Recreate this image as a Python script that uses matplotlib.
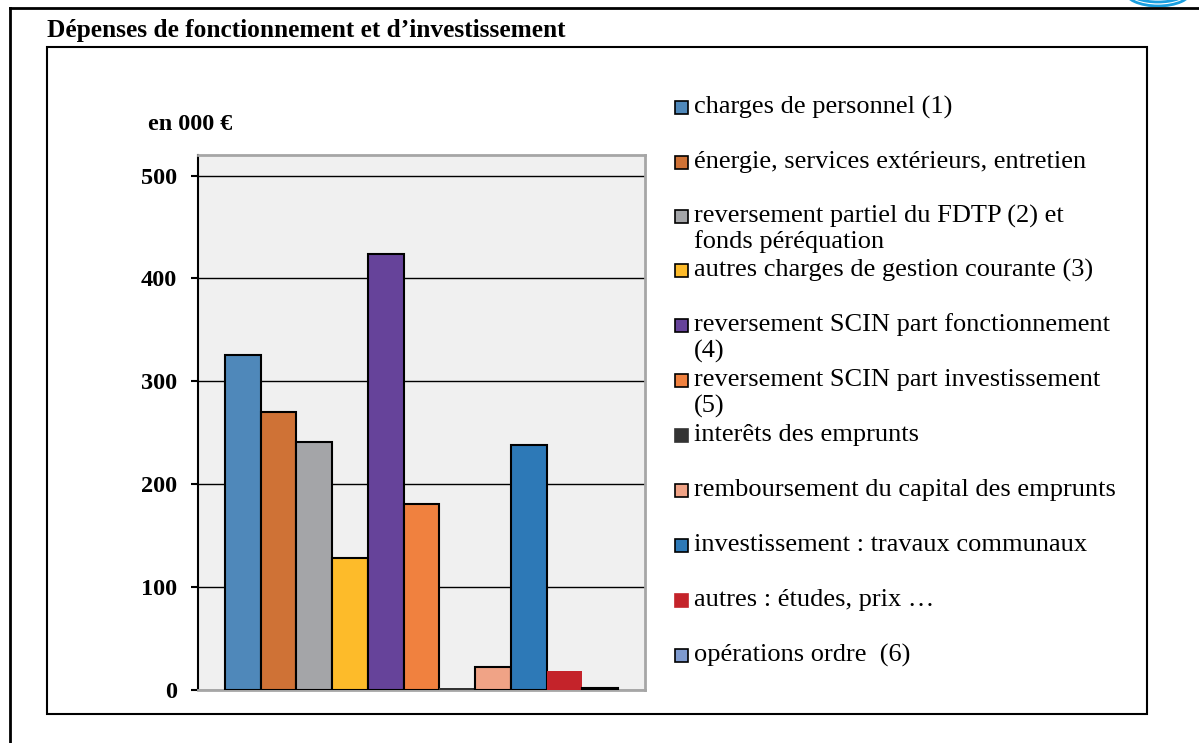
import matplotlib.pyplot as plt
from matplotlib.patches import Rectangle, Arc

plt.rcParams['font.family'] = ['Liberation Serif', 'DejaVu Serif']

# data (en 000 €)
labels = ["charges de personnel (1)",
          "énergie, services extérieurs, entretien",
          "reversement partiel du FDTP (2) et\nfonds péréquation",
          "autres charges de gestion courante (3)",
          "reversement SCIN part fonctionnement\n(4)",
          "reversement SCIN part investissement\n(5)",
          "interêts des emprunts",
          "remboursement du capital des emprunts",
          "investissement : travaux communaux",
          "autres : études, prix …",
          "opérations ordre  (6)"]
values = [326, 270, 241, 128, 424, 181, 2, 22, 238, 18, 2]
colors = ["#4F88BA", "#CF7236", "#A4A5A8", "#FDBB2A", "#66439A", "#F0813F",
          "#333333", "#F0A386", "#2D79B7", "#C4232A", "#7E9ACF"]
edges = ["black"] * 11
edges[6] = "none"
edges[9] = "none"
yticks = [0, 100, 200, 300, 400, 500]

W, H = 1199, 743
fig = plt.figure(figsize=(W / 100, H / 100), dpi=100)

def fx(px):
    return px / W

def fy(py):
    return 1 - py / H

# cadres
fig.add_artist(plt.Line2D([fx(10), fx(10)], [fy(8), 0], color="black", lw=2))
fig.add_artist(plt.Line2D([fx(10), 1], [fy(8), fy(8)], color="black", lw=2))
fig.add_artist(Rectangle((fx(47), fy(714)), fx(1147) - fx(47), fy(47) - fy(714),
                         fill=False, ec="black", lw=1.5, transform=fig.transFigure))
# logo (bout visible)
for w, h in [(66, 30), (58, 22)]:
    fig.add_artist(Arc((fx(1158), fy(-9)), fx(w), h / H, theta1=180, theta2=360,
                       color="#1A9FE0", lw=2, transform=fig.transFigure))

fig.text(fx(47), fy(30), "Dépenses de fonctionnement et d’investissement",
         fontsize=18.3, fontweight="bold", va="center", ha="left")
fig.text(fx(148), fy(125), "en 000 €", fontsize=17.4, fontweight="bold",
         va="center", ha="left")

ax = fig.add_axes([fx(198), fy(690), fx(645) - fx(198), fy(155) - fy(690)])
ax.set_facecolor("#F0F0F0")
x = list(range(len(values)))
ax.bar(x, values, width=1.0, color=colors, edgecolor=edges, linewidth=1.5, zorder=3)
ax.set_xlim(-1.25, 11.25)
ax.set_ylim(0, 520)
ax.set_yticks(yticks)
ax.set_yticklabels([str(t) for t in yticks], fontsize=17.5, fontweight="bold")
ax.set_xticks([])
ax.yaxis.grid(True, color="black", lw=1)
ax.set_axisbelow(True)
ax.tick_params(axis="y", direction="out", length=5, width=1.5, pad=10)
for s in ["top", "right", "bottom"]:
    ax.spines[s].set_color("#A6A6A6")
    ax.spines[s].set_linewidth(2)
ax.spines["left"].set_color("black")
ax.spines["left"].set_linewidth(1.5)

# légende
leg_y = [107, 162, 216, 270, 325, 380, 435, 490, 545, 600, 655]
for i, lab in enumerate(labels):
    yc = leg_y[i]
    fig.add_artist(Rectangle((fx(675), fy(yc + 6.5)), fx(13), 13 / H,
                             fc=colors[i], ec=edges[i] if edges[i] != "none" else colors[i],
                             lw=1.2, transform=fig.transFigure))
    for j, line in enumerate(lab.split("\n")):
        fig.text(fx(694), fy(yc + j * 26), line, fontsize=19, va="center", ha="left")

fig.savefig("out.png", dpi=100)
